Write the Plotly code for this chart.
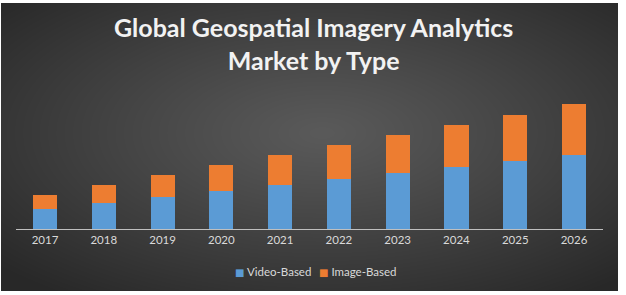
import base64, struct, zlib
import numpy as np
import plotly.graph_objects as go

years = ["2017", "2018", "2019", "2020", "2021", "2022", "2023", "2024", "2025", "2026"]
video_based = [20.3, 26.3, 32.3, 38.3, 44.3, 50.3, 56.3, 62.3, 68.3, 74.3]
image_based = [14.0, 18.0, 22.0, 26.0, 30.0, 34.0, 38.0, 42.0, 46.0, 51.0]
series_names = ["Video-Based", "Image-Based"]
series_colors = ["#5b9bd5", "#ed7d31"]

W, H = 626, 295

# radial gradient background image (PNG data URI)
bw, bh = 617, 288
yy, xx = np.mgrid[0:bh, 0:bw]
cx, cy = bw * 0.52, bh * 0.45
d = np.sqrt(((xx - cx) / (bw / 2)) ** 2 + ((yy - cy) / (bh / 2)) ** 2) / np.sqrt(2)
d = np.clip(d, 0, 1)
g = (90 - (90 - 40) * d ** 1.1).astype(np.uint8)
raw = b"".join(b"\x00" + g[r].tobytes() for r in range(bh))


def chunk(t, data):
    c = struct.pack(">I", len(data)) + t + data
    return c + struct.pack(">I", zlib.crc32(t + data) & 0xffffffff)


png = b"\x89PNG\r\n\x1a\n" + chunk(b"IHDR", struct.pack(">IIBBBBB", bw, bh, 8, 0, 0, 0, 0)) \
    + chunk(b"IDAT", zlib.compress(raw, 9)) + chunk(b"IEND", b"")
src = "data:image/png;base64," + base64.b64encode(png).decode()

fig = go.Figure()
fig.add_trace(go.Bar(x=years, y=video_based, name=series_names[0], showlegend=False,
                     marker=dict(color=series_colors[0], line=dict(width=0))))
fig.add_trace(go.Bar(x=years, y=image_based, name=series_names[1], showlegend=False,
                     marker=dict(color=series_colors[1], line=dict(width=0))))

fig.add_annotation(text="<b>Global Geospatial Imagery Analytics<br>Market by Type</b>",
                   xref="paper", yref="paper", x=0.5, y=1 - 44 / H,
                   xanchor="center", yanchor="middle", showarrow=False,
                   font=dict(family="Lato", size=25, color="#f2f2f2"))

# legend as text
for name, color, xl in zip(series_names, series_colors, [233, 317]):
    fig.add_annotation(
        text=f"<span style='font-family:DejaVu Sans;font-size:10px;color:{color}'>■</span> {name}",
        xref="paper", yref="paper", x=xl / W, y=1 - 271 / H,
        xanchor="left", yanchor="middle", showarrow=False,
        font=dict(family="Lato", size=11.5, color="#d9d9d9"))

fig.update_layout(
    width=W, height=H,
    margin=dict(l=0, r=0, t=0, b=0),
    paper_bgcolor="white",
    plot_bgcolor="rgba(0,0,0,0)",
    barmode="stack",
    bargap=0.59,
    showlegend=False,
    images=[dict(source=src, xref="paper", yref="paper", x=1 / W, y=1 - 3 / H,
                 sizex=bw / W, sizey=bh / H, xanchor="left", yanchor="top",
                 sizing="stretch", layer="below")],
    xaxis=dict(domain=[15.6 / W, 603.4 / W], showline=True, linecolor="#bfbfbf", linewidth=1,
               ticks="", showgrid=False, tickfont=dict(family="Lato", size=11.5, color="#d9d9d9"),
               fixedrange=True),
    yaxis=dict(domain=[1 - 229.3 / H, 1 - 95 / H], range=[0, 134.3], visible=False,
               showgrid=False, fixedrange=True),
)

fig.write_html("out.html")
